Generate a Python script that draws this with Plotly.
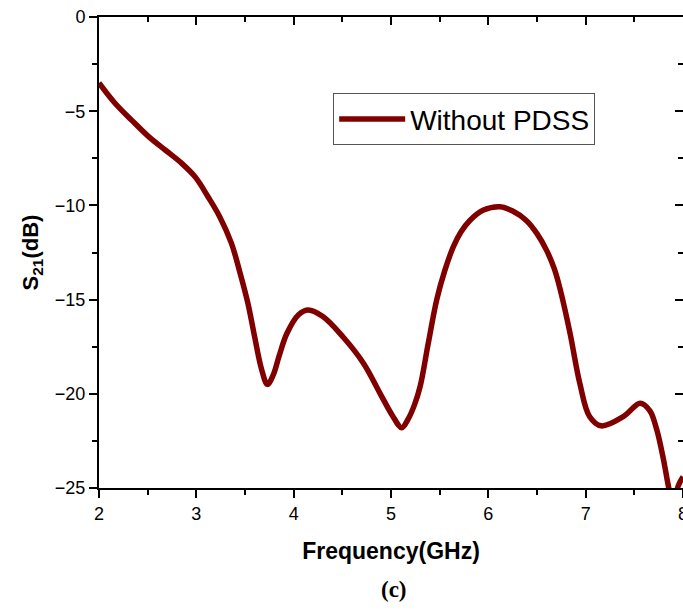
import plotly.graph_objects as go

freq = [2.0, 2.16, 2.34, 2.51, 2.68, 2.85, 2.99, 3.12, 3.24, 3.36, 3.45, 3.53, 3.60,
        3.67, 3.73, 3.79, 3.85, 3.93, 4.05, 4.15, 4.30, 4.51, 4.72, 4.89, 5.02,
        5.11, 5.18, 5.24, 5.30, 5.38, 5.47, 5.55, 5.64, 5.72, 5.81, 5.95, 6.12,
        6.25, 6.39, 6.50, 6.60, 6.68, 6.74, 6.84, 6.94, 7.04, 7.16, 7.39, 7.56,
        7.66, 7.73, 7.80, 7.85, 7.90, 7.95, 8.0]
s21 = [-3.5, -4.55, -5.5, -6.35, -7.06, -7.77, -8.5, -9.54, -10.6, -12.0, -13.6, -15.2, -17.0,
       -18.7, -19.5, -19.0, -18.0, -16.8, -15.8, -15.55, -15.9, -17.0, -18.4, -20.0, -21.2,
       -21.8, -21.3, -20.6, -19.6, -17.4, -15.0, -13.5, -12.2, -11.4, -10.8, -10.25, -10.07,
       -10.3, -10.8, -11.5, -12.4, -13.4, -14.5, -16.8, -19.45, -21.2, -21.7, -21.2, -20.5,
       -20.9, -21.9, -23.5, -24.9, -26.0, -24.9, -24.4]

series_name = "Without PDSS"
x_range = [2, 8.0]
y_range = [-25, 0]

fig = go.Figure()
fig.add_trace(go.Scatter(x=freq, y=s21, mode="lines", name=series_name,
                         line=dict(color="#800000", width=5.5, shape="spline", smoothing=1)))
# dummy trace to realise the mirrored (inward-tick) axes
fig.add_trace(go.Scatter(x=[], y=[], xaxis="x2", yaxis="y2", showlegend=False,
                         hoverinfo="skip"))

tickfont = dict(family="Liberation Sans, Arial", size=18, color="black")
common = dict(showline=True, linecolor="black", linewidth=2, showgrid=False,
              zeroline=False, tickcolor="black", tickwidth=2, automargin=False)

fig.update_layout(
    width=683, height=610,
    margin=dict(l=99, r=0, t=17, b=122),
    paper_bgcolor="white", plot_bgcolor="white",
    showlegend=True,
    legend=dict(x=0.401, y=0.838, xanchor="left", yanchor="top",
                bordercolor="#555555", borderwidth=1, bgcolor="white",
                font=dict(family="Liberation Sans, Arial", size=28, color="black"),
                itemwidth=66, tracegroupgap=0),
    xaxis=dict(range=x_range, dtick=1, tick0=2, ticks="outside", ticklen=8,
               tickfont=tickfont, ticklabeloverflow="allow",
               minor=dict(dtick=0.5, ticks="outside", ticklen=5, tickcolor="black", tickwidth=2),
               title=dict(text="<b>Frequency(GHz)</b>", standoff=20,
                          font=dict(family="Liberation Sans, Arial", size=23, color="black")),
               **common),
    yaxis=dict(range=y_range, dtick=5, ticks="outside", ticklen=8,
               tickfont=tickfont,
               minor=dict(dtick=2.5, ticks="outside", ticklen=5, tickcolor="black", tickwidth=2),
               title=dict(text="<b>S<sub>21</sub>(dB)</b>", standoff=10,
                          font=dict(family="Liberation Sans, Arial", size=22, color="black")),
               **common),
    xaxis2=dict(range=x_range, overlaying="x", side="top", anchor="y2", dtick=1, tick0=2,
                ticks="inside", ticklen=8, showticklabels=False,
                minor=dict(dtick=0.5, ticks="inside", ticklen=5, tickcolor="black", tickwidth=2),
                **common),
    yaxis2=dict(range=y_range, overlaying="y", side="right", anchor="x2", dtick=5,
                ticks="inside", ticklen=8, showticklabels=False,
                minor=dict(dtick=2.5, ticks="inside", ticklen=5, tickcolor="black", tickwidth=2),
                **common),
    annotations=[dict(text="<b>(c)</b>", xref="paper", yref="paper", x=0.505, y=-0.216,
                      xanchor="center", yanchor="middle", showarrow=False,
                      font=dict(family="Liberation Serif, Times New Roman", size=23, color="black"))],
)

fig.write_html("out.html")
